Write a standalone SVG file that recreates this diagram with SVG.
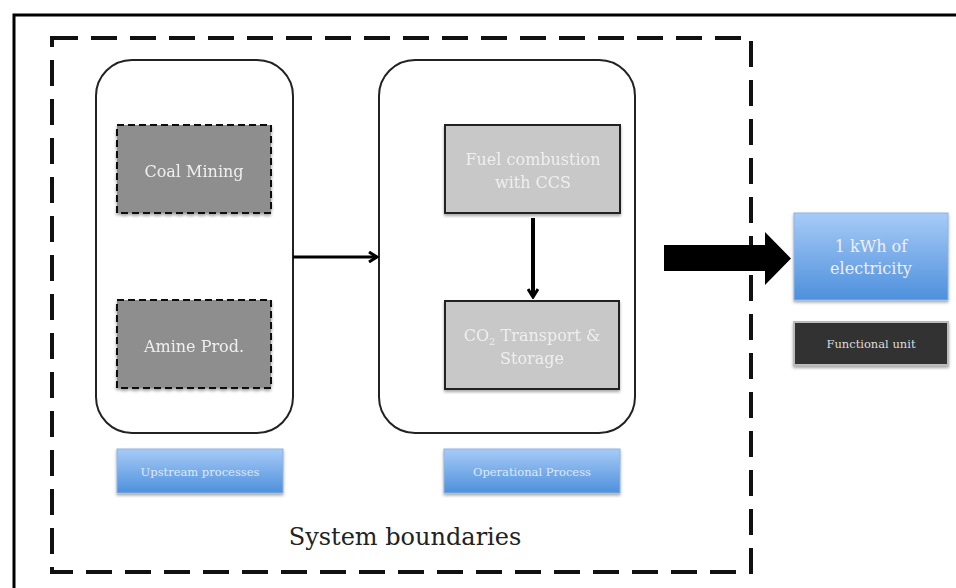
<svg xmlns="http://www.w3.org/2000/svg" width="956" height="588" viewBox="0 0 956 588">
  <defs>
    <linearGradient id="blueFill" x1="0" y1="0" x2="0" y2="1">
      <stop offset="0" stop-color="#a7cbf7"/>
      <stop offset="1" stop-color="#4d90dc"/>
    </linearGradient>
    <filter id="shadow" x="-10%" y="-10%" width="120%" height="130%">
      <feDropShadow dx="0" dy="2" stdDeviation="1.5" flood-color="#000" flood-opacity="0.35"/>
    </filter>
    <marker id="arrowOpen" viewBox="0 0 12 12" refX="10" refY="6" markerWidth="12" markerHeight="12" markerUnits="userSpaceOnUse" orient="auto">
      <path d="M2,1 L10,6 L2,11" fill="none" stroke="#000" stroke-width="3" stroke-linejoin="miter"/>
    </marker>
  </defs>
  <style>
    .label { font-family: "DejaVu Serif", "Liberation Serif", serif; text-anchor: middle; }
    .proc { font-size: 16px; fill: #efefef; }
    .tag { font-size: 11.5px; fill: #dce9fb; }
    .group { fill: #fff; stroke: #222; stroke-width: 2; }
    .blue { fill: url(#blueFill); stroke: #8fb3e0; stroke-width: 1; filter: url(#shadow); }
  </style>

  <rect width="956" height="588" fill="#fff"/>

  <!-- outer frame -->
  <path d="M14,588 V15 H956" fill="none" stroke="#000" stroke-width="3"/>

  <!-- system boundary -->
  <g id="system-boundary">
    <rect x="52" y="38" width="699" height="534" fill="none" stroke="#111" stroke-width="4" stroke-dasharray="26 13"/>
    <text class="label" x="405" y="545" font-size="24" fill="#222">System boundaries</text>
  </g>

  <!-- upstream group -->
  <g id="upstream">
    <rect class="group" x="96" y="60" width="197" height="373" rx="36"/>
  </g>
  <g id="coal-mining" filter="url(#shadow)">
    <rect x="117" y="125" width="154" height="88" fill="#8e8e8e" stroke="#111" stroke-width="2" stroke-dasharray="7 4"/>
    <text class="label proc" x="194" y="177">Coal Mining</text>
  </g>
  <g id="amine-prod" filter="url(#shadow)">
    <rect x="117" y="300" width="154" height="88" fill="#8e8e8e" stroke="#111" stroke-width="2" stroke-dasharray="7 4"/>
    <text class="label proc" x="194" y="352">Amine Prod.</text>
  </g>
  <g id="upstream-label">
    <rect class="blue" x="117" y="449" width="166" height="44"/>
    <text class="label tag" x="200" y="476">Upstream processes</text>
  </g>

  <!-- operational group -->
  <g id="operational">
    <rect class="group" x="379" y="60" width="256" height="373" rx="36"/>
  </g>
  <g id="fuel-combustion" filter="url(#shadow)">
    <rect x="445" y="125" width="175" height="88" fill="#c8c8c8" stroke="#222" stroke-width="2"/>
    <text class="label proc" x="533" y="165">Fuel combustion</text>
    <text class="label proc" x="533" y="188">with CCS</text>
  </g>
  <g id="co2-transport" filter="url(#shadow)">
    <rect x="445" y="301" width="174" height="88" fill="#c8c8c8" stroke="#222" stroke-width="2"/>
    <text class="label proc" x="532" y="341">CO<tspan font-size="10" dy="4">2</tspan><tspan dy="-4"> Transport &amp;</tspan></text>
    <text class="label proc" x="532" y="364">Storage</text>
  </g>
  <g id="operational-label">
    <rect class="blue" x="444" y="449" width="176" height="44"/>
    <text class="label tag" x="532" y="476">Operational Process</text>
  </g>

  <!-- functional unit -->
  <g id="electricity">
    <rect class="blue" x="794" y="213" width="154" height="87"/>
    <text class="label proc" x="871" y="252">1 kWh of</text>
    <text class="label proc" x="871" y="274">electricity</text>
  </g>
  <g id="functional-unit">
    <rect x="794" y="322" width="154" height="43" fill="#333" stroke="#bbb" stroke-width="2" filter="url(#shadow)"/>
    <text class="label" x="871" y="348" font-size="11.5" fill="#ddd">Functional unit</text>
  </g>

  <!-- connectors -->
  <g id="connectors">
    <line x1="293" y1="257" x2="377" y2="257" stroke="#000" stroke-width="3" marker-end="url(#arrowOpen)"/>
    <line x1="533" y1="218" x2="533" y2="297" stroke="#000" stroke-width="4" marker-end="url(#arrowOpen)"/>
    <path d="M664,245 H765 V232 L791,258.5 L765,285 V271 H664 Z" fill="#000"/>
  </g>
</svg>
